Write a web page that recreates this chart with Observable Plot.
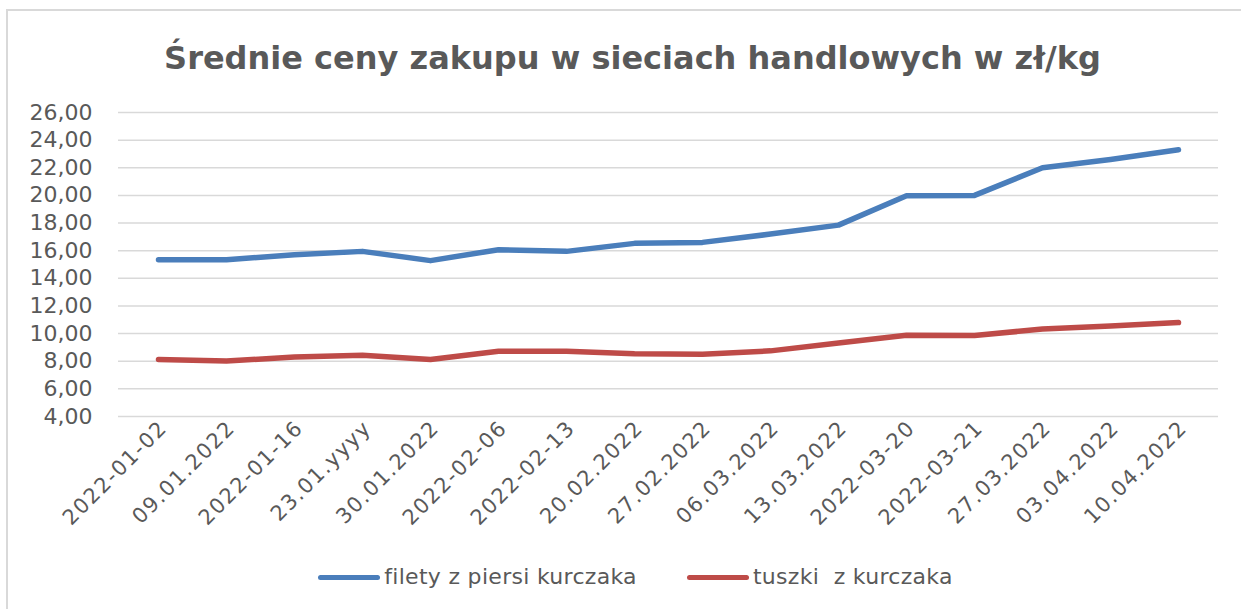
<!DOCTYPE html>
<html>
<head>
<meta charset="utf-8">
<script src="https://cdn.jsdelivr.net/npm/d3@7"></script>
<script src="https://cdn.jsdelivr.net/npm/@observablehq/plot@0.6"></script>
<style>
  html, body { margin: 0; padding: 0; background: #fff; width: 1241px; height: 609px; overflow: hidden; }
  #frame { position: absolute; left: 6px; top: 9px; right: 0; bottom: 0;
           border-top: 2px solid #d9d9d9; border-left: 2px solid #d9d9d9; }
  #title { padding-top: 27px; padding-left: 16px; height: 52px; line-height: 40px; text-align: center;
           font-family: "DejaVu Sans", sans-serif; font-weight: bold; font-size: 32px; color: #595959; }
  #legend { padding-top: 25px; padding-left: 22px; line-height: 24px; display: flex; justify-content: center; align-items: center;
            font-family: "DejaVu Sans", sans-serif; font-size: 22px; letter-spacing: 0.3px; color: #595959; white-space: pre; }
  .item { display: flex; align-items: center; margin: 0 25px; }
  .sw { width: 62px; height: 5px; border-radius: 3px; margin-right: 4px; }
  g[aria-label="x-axis tick label"] text { letter-spacing: 1.5px; }
</style>
</head>
<body>
<div id="frame">
  <div id="title">Średnie ceny zakupu w sieciach handlowych w zł/kg</div>
  <div id="chart"></div>
  <div id="legend"></div>
</div>
<script>
const categories = ["2022-01-02","09.01.2022","2022-01-16","23.01.yyyy","30.01.2022","2022-02-06","2022-02-13","20.02.2022","27.02.2022","06.03.2022","13.03.2022","2022-03-20","2022-03-21","27.03.2022","03.04.2022","10.04.2022"];
const filety = [15.35,15.35,15.7,15.95,15.28,16.07,15.95,16.53,16.6,17.2,17.85,19.98,20.0,22.0,22.6,23.3];
const tuszki = [8.12,8.02,8.3,8.43,8.12,8.72,8.72,8.55,8.5,8.75,9.32,9.88,9.86,10.33,10.55,10.8];
const seriesNames = ["filety z piersi kurczaka", "tuszki  z kurczaka"];
const seriesColors = ["#4a7ebb", "#be4b48"];
const yTicks = [4,6,8,10,12,14,16,18,20,22,24,26];

const rows = [];
categories.forEach((c, i) => {
  rows.push({cat: c, value: filety[i], series: seriesNames[0]});
  rows.push({cat: c, value: tuszki[i], series: seriesNames[1]});
});

const chart = Plot.plot({
  width: 1233,
  height: 450,
  marginLeft: 110,
  marginRight: 23,
  marginTop: 22,
  marginBottom: 124,
  style: {fontFamily: "DejaVu Sans, sans-serif", background: "#fff"},
  x: {type: "point", domain: categories, padding: 0.5},
  y: {domain: [4, 26]},
  color: {domain: seriesNames, range: seriesColors},
  marks: [
    Plot.gridY(yTicks, {stroke: "#d9d9d9", strokeOpacity: 1, strokeWidth: 1.5}),
    Plot.axisY(yTicks, {tickSize: 0, tickPadding: 26, fontSize: 22, fill: "#595959",
      tickFormat: d => d.toFixed(2).replace(".", ","), label: null}),
    Plot.axisX({tickSize: 0, tickRotate: -45, tickPadding: 8, fontSize: 21, fill: "#595959", label: null, dx: 5}),
    Plot.line(rows, {x: "cat", y: "value", z: "series", stroke: "series", strokeWidth: 5.5,
      strokeLinecap: "round", strokeLinejoin: "round"})
  ]
});
document.getElementById("chart").appendChild(chart);

const legend = document.getElementById("legend");
seriesNames.forEach((n, i) => {
  const it = document.createElement("div");
  it.className = "item";
  const sw = document.createElement("div");
  sw.className = "sw";
  sw.style.background = seriesColors[i];
  const tx = document.createElement("span");
  tx.textContent = n;
  it.appendChild(sw);
  it.appendChild(tx);
  legend.appendChild(it);
});
</script>
</body>
</html>
